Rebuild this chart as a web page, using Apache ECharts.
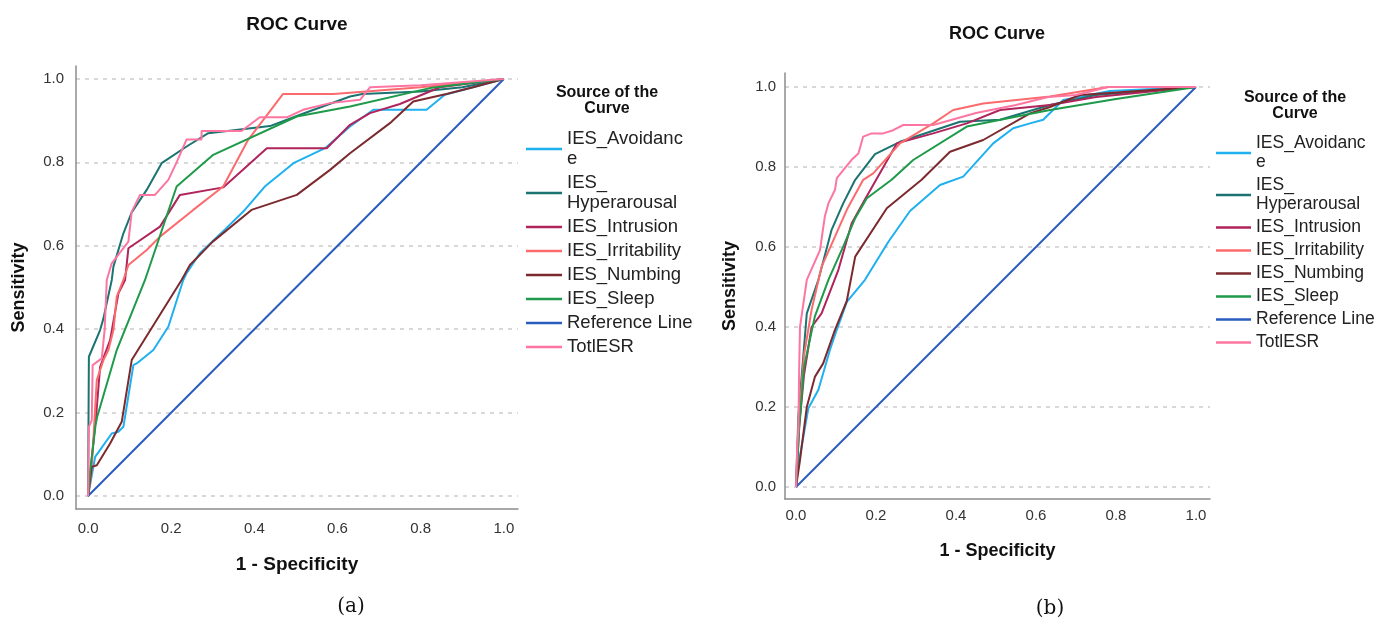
<!DOCTYPE html>
<html>
<head>
<meta charset="utf-8">
<title>ROC Curve</title>
<script src="https://cdn.jsdelivr.net/npm/echarts@6.0.0/dist/echarts.min.js"></script>
<style>
  html, body { margin: 0; padding: 0; background: #fff; }
  #chart { width: 1389px; height: 622px; }
</style>
</head>
<body>
<div id="chart"></div>
<script>
// curve names, in legend order
const curveNames = ['IES_Avoidance', 'IES_Hyperarousal', 'IES_Intrusion', 'IES_Irritability',
  'IES_Numbing', 'IES_Sleep', 'Reference Line', 'TotlESR'];
const curveColors = ['#1eb0ef', '#1b7471', '#b0245c', '#fb6b6e', '#7c2a2e', '#1e9a4a', '#2a5bbf', '#fc76a1'];
const tickValues = [0, 0.2, 0.4, 0.6, 0.8, 1.0];

// panel (a): [1 - specificity, sensitivity]
const aAvoidance = [[0, 0], [0.017, 0.094], [0.021, 0.098], [0.057, 0.15], [0.073, 0.154], [0.085, 0.166],
  [0.109, 0.314], [0.117, 0.318], [0.157, 0.35], [0.193, 0.406], [0.229, 0.518], [0.237, 0.534],
  [0.269, 0.582], [0.33, 0.64], [0.377, 0.686], [0.425, 0.742], [0.494, 0.798], [0.57, 0.834],
  [0.63, 0.886], [0.686, 0.926], [0.814, 0.926], [0.858, 0.962], [1, 1]];
const aHyperarousal = [[0, 0], [0.002, 0.334], [0.029, 0.398], [0.037, 0.426], [0.057, 0.518], [0.061, 0.55],
  [0.085, 0.63], [0.105, 0.68], [0.141, 0.734], [0.177, 0.798], [0.237, 0.838], [0.289, 0.87],
  [0.4375, 0.887], [0.51, 0.914], [0.63, 0.958], [0.66, 0.964], [0.8, 0.97], [0.9, 0.98], [1, 1]];
const aIntrusion = [[0, 0], [0.005, 0.05], [0.012, 0.12], [0.02, 0.2], [0.029, 0.31], [0.053, 0.374],
  [0.073, 0.486], [0.089, 0.518], [0.097, 0.594], [0.173, 0.646], [0.221, 0.722], [0.325, 0.74],
  [0.43, 0.834], [0.574, 0.834], [0.63, 0.89], [0.678, 0.918], [0.75, 0.94], [0.846, 0.98], [1, 1]];
const aIrritability = [[0, 0], [0.008, 0.055], [0.021, 0.278], [0.037, 0.326], [0.049, 0.35], [0.061, 0.398],
  [0.069, 0.478], [0.085, 0.518], [0.097, 0.554], [0.141, 0.59], [0.173, 0.622], [0.253, 0.686],
  [0.325, 0.742], [0.385, 0.854], [0.469, 0.964], [0.59, 0.964], [0.63, 0.967], [0.8, 0.98], [1, 1]];
const aNumbing = [[0, 0], [0.005, 0.04], [0.009, 0.07], [0.021, 0.074], [0.053, 0.126], [0.081, 0.178],
  [0.105, 0.326], [0.225, 0.518], [0.245, 0.554], [0.3, 0.61], [0.393, 0.686], [0.502, 0.722],
  [0.582, 0.782], [0.63, 0.822], [0.726, 0.894], [0.782, 0.946], [0.862, 0.964], [0.926, 0.98], [1, 1]];
const aSleep = [[0, 0], [0.005, 0.06], [0.018, 0.17], [0.022, 0.19], [0.069, 0.35], [0.137, 0.518],
  [0.213, 0.742], [0.301, 0.818], [0.502, 0.91], [0.63, 0.934], [0.822, 0.978], [1, 1]];
const aTotal = [[0, 0], [0.002, 0.166], [0.009, 0.182], [0.011, 0.314], [0.033, 0.33], [0.04, 0.4],
  [0.045, 0.518], [0.057, 0.558], [0.097, 0.61], [0.105, 0.682], [0.125, 0.722], [0.161, 0.722],
  [0.193, 0.758], [0.213, 0.8], [0.237, 0.855], [0.273, 0.855], [0.273, 0.875], [0.369, 0.875],
  [0.389, 0.89], [0.413, 0.908], [0.478, 0.908], [0.517, 0.926], [0.582, 0.942], [0.654, 0.95],
  [0.678, 0.98], [0.8, 0.985], [1, 1]];

// panel (b)
const bAvoidance = [[0, 0], [0.005, 0.05], [0.031, 0.197], [0.056, 0.243], [0.085, 0.343], [0.102, 0.393],
  [0.127, 0.463], [0.1725, 0.518], [0.231, 0.613], [0.285, 0.69], [0.36, 0.755], [0.418, 0.776],
  [0.493, 0.859], [0.543, 0.897], [0.585, 0.909], [0.618, 0.918], [0.668, 0.9675], [0.785, 0.99], [1, 1]];
const bHyperarousal = [[0, 0], [0.006, 0.18], [0.016, 0.3], [0.027, 0.434], [0.056, 0.518], [0.089, 0.643],
  [0.118, 0.709], [0.148, 0.768], [0.1975, 0.832], [0.26, 0.863], [0.41, 0.913], [0.51, 0.918],
  [0.635, 0.955], [0.75, 0.98], [1, 1]];
const bIntrusion = [[0, 0], [0.008, 0.15], [0.02, 0.28], [0.039, 0.4], [0.064, 0.434], [0.106, 0.543],
  [0.139, 0.659], [0.173, 0.72], [0.252, 0.859], [0.343, 0.884], [0.427, 0.909], [0.51, 0.9425],
  [0.635, 0.955], [0.75, 0.975], [1, 1]];
const bIrritability = [[0, 0], [0.006, 0.15], [0.02, 0.33], [0.039, 0.443], [0.064, 0.551], [0.0975, 0.626],
  [0.127, 0.693], [0.168, 0.768], [0.193, 0.784], [0.26, 0.859], [0.343, 0.909], [0.393, 0.9425],
  [0.468, 0.959], [0.635, 0.976], [0.78, 1.0], [1, 1]];
const bNumbing = [[0, 0], [0.01, 0.0675], [0.027, 0.2], [0.0475, 0.276], [0.068, 0.309], [0.0975, 0.393],
  [0.127, 0.465], [0.148, 0.576], [0.227, 0.697], [0.314, 0.768], [0.385, 0.838], [0.468, 0.8675],
  [0.585, 0.934], [0.635, 0.95], [0.71, 0.98], [1, 1]];
const bSleep = [[0, 0], [0.008, 0.15], [0.02, 0.3], [0.047, 0.426], [0.081, 0.518], [0.118, 0.601],
  [0.148, 0.672], [0.177, 0.722], [0.239, 0.768], [0.293, 0.8175], [0.427, 0.901], [0.552, 0.926],
  [0.635, 0.9425], [0.8, 0.97], [1, 1]];
const bTotal = [[0, 0], [0.003, 0.1], [0.006, 0.142], [0.008, 0.3], [0.01, 0.4], [0.027, 0.518],
  [0.06, 0.592], [0.072, 0.676], [0.081, 0.709], [0.0975, 0.743], [0.102, 0.772], [0.139, 0.818],
  [0.156, 0.834], [0.168, 0.876], [0.189, 0.884], [0.218, 0.884], [0.243, 0.892], [0.268, 0.905],
  [0.343, 0.905], [0.45, 0.935], [0.55, 0.955], [0.63, 0.975], [0.7, 0.98], [0.78, 1.0], [1, 1]];

const referenceLine = [[0, 0], [1, 1]];

const panelA = [aAvoidance, aHyperarousal, aIntrusion, aIrritability, aNumbing, aSleep, referenceLine, aTotal];
const panelB = [bAvoidance, bHyperarousal, bIntrusion, bIrritability, bNumbing, bSleep, referenceLine, bTotal];

// SPSS wraps these two legend entries
const legendText = { IES_Avoidance: 'IES_Avoidanc\ne', IES_Hyperarousal: 'IES_\nHyperarousal' };

const FONT = 'Liberation Sans, Arial, sans-serif';

const chart = echarts.init(document.getElementById('chart'));

const makeXAxis = (gridIndex, min, max, labelMargin, nameGap, nameSize) => ({
  type: 'value',
  gridIndex,
  min,
  max,
  name: '1 - Specificity',
  nameLocation: 'middle',
  nameGap,
  nameTextStyle: { fontFamily: FONT, fontWeight: 'bold', fontSize: nameSize, color: '#111' },
  axisLine: { show: true, onZero: false, lineStyle: { color: '#8c8c8c', width: 1.5 } },
  axisTick: { show: false, customValues: tickValues },
  axisLabel: {
    customValues: tickValues,
    formatter: v => v.toFixed(1),
    margin: labelMargin,
    fontFamily: FONT,
    fontSize: 15,
    color: '#333',
  },
  splitLine: { show: false },
});

const makeYAxis = (gridIndex, min, max, labelMargin, nameGap, nameSize) => ({
  type: 'value',
  gridIndex,
  min,
  max,
  name: 'Sensitivity',
  nameLocation: 'middle',
  nameGap,
  nameTextStyle: { fontFamily: FONT, fontWeight: 'bold', fontSize: nameSize, color: '#111' },
  axisLine: { show: true, onZero: false, lineStyle: { color: '#8c8c8c', width: 1.5 } },
  axisTick: { show: false, customValues: tickValues },
  axisLabel: {
    customValues: tickValues,
    formatter: v => v.toFixed(1),
    margin: labelMargin,
    fontFamily: FONT,
    fontSize: 15,
    color: '#333',
  },
  splitLine: { show: true, lineStyle: { color: '#cccccc', width: 1.5, type: [4, 5] } },
});

const makeLegend = (left, top, itemWidth, fontSize, lineHeight) => ({
  data: curveNames,
  orient: 'vertical',
  left,
  top,
  padding: 0,
  itemGap: 4,
  itemWidth,
  itemHeight: 2.5,
  icon: 'rect',
  itemStyle: { borderWidth: 0 },
  selectedMode: false,
  formatter: name => legendText[name] || name,
  textStyle: { fontFamily: FONT, fontSize, lineHeight, color: '#222' },
});

const textTitle = (text, left, top, style) => ({
  text,
  left,
  top,
  padding: 0,
  textAlign: 'center',
  textVerticalAlign: 'middle',
  textStyle: Object.assign({ fontFamily: FONT, color: '#111' }, style),
});

const buildSeries = (panel, axisIndex) => panel.map((points, i) => ({
  name: curveNames[i],
  type: 'line',
  xAxisIndex: axisIndex,
  yAxisIndex: axisIndex,
  data: points,
  symbol: 'none',
  smooth: false,
  color: curveColors[i],
  lineStyle: { color: curveColors[i], width: 2 },
  emphasis: { disabled: true },
}));

chart.setOption({
  animation: false,
  title: [
    textTitle('ROC Curve', 297, 25, { fontWeight: 'bold', fontSize: 19 }),
    textTitle('ROC Curve', 997, 34, { fontWeight: 'bold', fontSize: 18 }),
    textTitle('Source of the\nCurve', 607, 101, { fontWeight: 'bold', fontSize: 16, lineHeight: 16 }),
    textTitle('Source of the\nCurve', 1295, 106, { fontWeight: 'bold', fontSize: 16, lineHeight: 16 }),
    textTitle('(a)', 351, 607, { fontFamily: 'DejaVu Serif, serif', fontWeight: 'normal', fontSize: 20, color: '#111' }),
    textTitle('(b)', 1050, 609, { fontFamily: 'DejaVu Serif, serif', fontWeight: 'normal', fontSize: 20, color: '#111' }),
  ],
  legend: [
    makeLegend(526, 129, 36, 18.5, 20),
    makeLegend(1216, 134, 35, 17.5, 19),
  ],
  grid: [
    { left: 76, top: 66, width: 442, height: 443 },
    { left: 785, top: 73, width: 425, height: 426 },
  ],
  xAxis: [
    makeXAxis(0, -0.029, 1.034, 12, 46, 19),
    makeXAxis(1, -0.0275, 1.035, 9, 43, 18),
  ],
  yAxis: [
    makeYAxis(0, -0.031, 1.031, 12, 48, 18),
    makeYAxis(1, -0.03, 1.035, 9, 46, 18),
  ],
  series: [...buildSeries(panelA, 0), ...buildSeries(panelB, 1)],
});

window.addEventListener('resize', () => chart.resize());
</script>
</body>
</html>
